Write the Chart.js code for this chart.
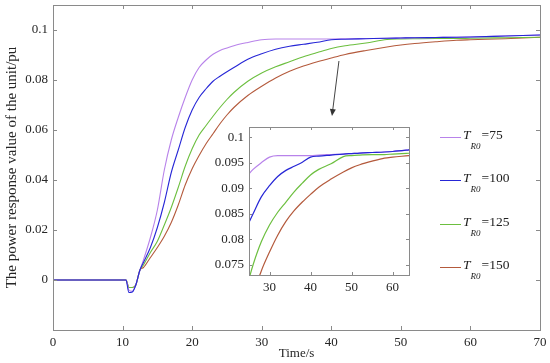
<!DOCTYPE html>
<html>
<head>
<meta charset="utf-8">
<script src="https://cdn.jsdelivr.net/npm/chart.js@4.4.1/dist/chart.umd.min.js"></script>
<style>
  body { margin: 0; background: #fff; }
  #wrap { position: relative; width: 550px; height: 363px; font-family: 'Liberation Serif', 'Times New Roman', serif; }
  #main { position: absolute; left: 0; top: 0; }
  #inset { position: absolute; left: 200px; top: 115px; }
  .leg { position: absolute; left: 440px; height: 16px; line-height: 16px; font-size: 13.5px; color: #222; white-space: nowrap; padding-left: 23px; }
  .leg .ln { position: absolute; left: 0; top: 10px; width: 21px; height: 1px; }
  .leg .sub { font-size: 9px; position: relative; top: 10px; margin-right: 1px; }
</style>
</head>
<body>
<div id="wrap">
  <canvas id="main" width="550" height="363"></canvas>
  <canvas id="inset" width="220" height="185"></canvas>
</div>
<script>
// time axis (s), shared by all four curves
const timeS = [0, 10.5, 10.9, 11.4, 11.9, 12.5, 13, 14, 15, 16, 17, 18, 19, 20, 21, 22, 23, 24, 25, 26,
  28, 30, 32, 34, 36, 38, 40, 42, 45, 48, 50, 52, 55, 58, 60, 65, 70];

// power response (pu)
const tr75 = [0, 0, -0.004, -0.0045, -0.002, 0.004, 0.008, 0.017, 0.028, 0.044, 0.056, 0.065, 0.073, 0.080, 0.085, 0.088, 0.0903, 0.0918, 0.0928, 0.0937,
  0.095, 0.0961, 0.0964, 0.0964, 0.0964, 0.0964, 0.0964, 0.0965, 0.0966, 0.0967, 0.0968, 0.0969, 0.097, 0.0971, 0.0972, 0.0976, 0.098];
const tr100 = [0, 0, -0.005, -0.0048, -0.002, 0.004, 0.007, 0.013, 0.021, 0.031, 0.043, 0.052, 0.061, 0.068, 0.073, 0.0765, 0.0795, 0.0815, 0.0833, 0.085,
  0.0883, 0.0905, 0.0923, 0.0935, 0.0943, 0.0951, 0.0961, 0.0963, 0.0965, 0.0967, 0.0968, 0.0969, 0.097, 0.0971, 0.0972, 0.0976, 0.098];
const tr125 = [0, 0, -0.003, -0.003, -0.002, 0.004, 0.006, 0.011, 0.0155, 0.022, 0.029, 0.037, 0.0455, 0.0525, 0.058, 0.0618, 0.0655, 0.069, 0.0722, 0.075,
  0.0795, 0.0828, 0.0853, 0.0873, 0.0893, 0.091, 0.0926, 0.0937, 0.0948, 0.0962, 0.0964, 0.0965, 0.0966, 0.0966, 0.0967, 0.0969, 0.0971];
const tr150 = [0, 0, -0.003, -0.003, -0.002, 0.004, 0.005, 0.009, 0.013, 0.0175, 0.023, 0.03, 0.038, 0.0445, 0.0498, 0.0545, 0.0585, 0.0625, 0.066, 0.069,
  0.0738, 0.0775, 0.0808, 0.0835, 0.0856, 0.0873, 0.0888, 0.0902, 0.0918, 0.0932, 0.094, 0.0946, 0.0953, 0.0959, 0.0961, 0.0965, 0.0971];

const seriesLabels = ['75', '100', '125', '150'];
const seriesColors = ['#b883ea', '#2626d6', '#6cbf3f', '#b45a3c'];
const seriesData = [tr75, tr100, tr125, tr150];

// tick labels
const mainXTicks = [0, 10, 20, 30, 40, 50, 60, 70];
const mainYTicks = [0, 0.02, 0.04, 0.06, 0.08, 0.1];
const insetXTicks = [30, 40, 50, 60];
const insetYTicks = [0.075, 0.08, 0.085, 0.09, 0.095, 0.1];

// arrow from the curves down to the zoom box, in data units
const arrowFrom = [41.1, 0.0876];
const arrowTo = [40.1, 0.0656];

const serif = "'Liberation Serif', 'Times New Roman', serif";
const axisGray = '#8a8a8a';

function makeDatasets(width) {
  return seriesData.map((vals, i) => ({
    label: 'T_R0=' + seriesLabels[i],
    data: timeS.map((t, k) => ({ x: t, y: vals[k] })),
    borderColor: seriesColors[i],
    borderWidth: width,
    pointRadius: 0,
    cubicInterpolationMode: 'monotone',
    order: [2, 1, 3, 4][i]
  }));
}

// box around the plot with MATLAB style inward ticks
const framePlugin = {
  id: 'frame',
  beforeDatasetsDraw(chart, args, opts) {
    if (!opts.fill) return;
    const a = chart.chartArea;
    chart.ctx.save();
    chart.ctx.fillStyle = opts.fill;
    chart.ctx.fillRect(a.left, a.top, a.width, a.height);
    chart.ctx.restore();
  },
  afterDatasetsDraw(chart, args, opts) {
    const { ctx, chartArea: a, scales: { x, y } } = chart;
    const len = opts.len || 4;
    ctx.save();
    ctx.strokeStyle = axisGray;
    ctx.lineWidth = 1;
    ctx.beginPath();
    x.ticks.forEach(t => {
      const px = Math.round(x.getPixelForValue(t.value)) + 0.5;
      ctx.moveTo(px, a.bottom); ctx.lineTo(px, a.bottom - len);
      ctx.moveTo(px, a.top); ctx.lineTo(px, a.top + len);
    });
    y.ticks.forEach(t => {
      const py = Math.round(y.getPixelForValue(t.value)) + 0.5;
      ctx.moveTo(a.left, py); ctx.lineTo(a.left + len, py);
      ctx.moveTo(a.right, py); ctx.lineTo(a.right - len, py);
    });
    ctx.stroke();
    ctx.strokeRect(Math.round(a.left) + 0.5, Math.round(a.top) + 0.5, Math.round(a.width), Math.round(a.height));

    if (opts.arrow) {
      const x0 = x.getPixelForValue(arrowFrom[0]), y0 = y.getPixelForValue(arrowFrom[1]);
      const x1 = x.getPixelForValue(arrowTo[0]), y1 = y.getPixelForValue(arrowTo[1]);
      const ang = Math.atan2(y1 - y0, x1 - x0);
      ctx.strokeStyle = '#444';
      ctx.fillStyle = '#333';
      ctx.beginPath();
      ctx.moveTo(x0, y0);
      ctx.lineTo(x1 - 5 * Math.cos(ang), y1 - 5 * Math.sin(ang));
      ctx.stroke();
      ctx.beginPath();
      ctx.moveTo(x1, y1);
      ctx.lineTo(x1 - 7 * Math.cos(ang) + 3 * Math.sin(ang), y1 - 7 * Math.sin(ang) - 3 * Math.cos(ang));
      ctx.lineTo(x1 - 7 * Math.cos(ang) - 3 * Math.sin(ang), y1 - 7 * Math.sin(ang) + 3 * Math.cos(ang));
      ctx.closePath();
      ctx.fill();
    }
    ctx.restore();
  }
};

function axisOpts(min, max, ticks, extra) {
  return Object.assign({
    type: 'linear',
    min: min,
    max: max,
    afterBuildTicks: axis => { axis.ticks = ticks.map(v => ({ value: v })); },
    grid: { display: false, drawTicks: false },
    border: { display: false },
    ticks: { font: { family: serif, size: 13 }, color: '#262626', padding: 5, callback: v => String(v), maxRotation: 0 }
  }, extra);
}

new Chart(document.getElementById('main'), {
  type: 'line',
  data: { datasets: makeDatasets(1.1) },
  options: {
    responsive: false,
    animation: false,
    layout: { padding: { left: 0, right: 10, top: 5, bottom: 0 } },
    plugins: { legend: { display: false }, tooltip: { enabled: false }, frame: { len: 4, arrow: true } },
    scales: {
      x: axisOpts(0, 70, mainXTicks, {
        afterFit: axis => { axis.height = 33; axis.paddingLeft = 0; axis.paddingRight = 0; },
        title: { display: true, text: 'Time/s', font: { family: serif, size: 13 }, color: '#262626', padding: { top: 0, bottom: 2 } }
      }),
      y: axisOpts(-0.02, 0.11, mainYTicks, {
        afterFit: axis => { axis.width = 53; axis.paddingTop = 0; axis.paddingBottom = 0; },
        title: { display: true, text: 'The power response value of the unit/pu', font: { family: serif, size: 15 }, color: '#262626', padding: { top: 3, bottom: 0 } }
      })
    }
  },
  plugins: [framePlugin]
});

new Chart(document.getElementById('inset'), {
  type: 'line',
  data: { datasets: makeDatasets(1.2) },
  options: {
    responsive: false,
    animation: false,
    layout: { padding: { left: 0, right: 11, top: 12, bottom: 0 } },
    plugins: { legend: { display: false }, tooltip: { enabled: false }, frame: { len: 3, fill: '#fff' } },
    scales: {
      x: axisOpts(25, 64, insetXTicks, { afterFit: axis => { axis.height = 25; axis.paddingLeft = 0; axis.paddingRight = 0; } }),
      y: axisOpts(0.073, 0.102, insetYTicks, { afterFit: axis => { axis.width = 49; axis.paddingTop = 0; axis.paddingBottom = 0; } })
    }
  },
  plugins: [framePlugin]
});

// legend as html text
const legendTops = [127, 170, 214, 257];
const wrap = document.getElementById('wrap');
seriesLabels.forEach((lab, i) => {
  const d = document.createElement('div');
  d.className = 'leg';
  d.style.top = legendTops[i] + 'px';
  d.innerHTML = '<span class="ln" style="background:' + seriesColors[i] + '"></span><i>T</i><i class="sub">R0</i>=' + lab;
  wrap.appendChild(d);
});
</script>
</body>
</html>
